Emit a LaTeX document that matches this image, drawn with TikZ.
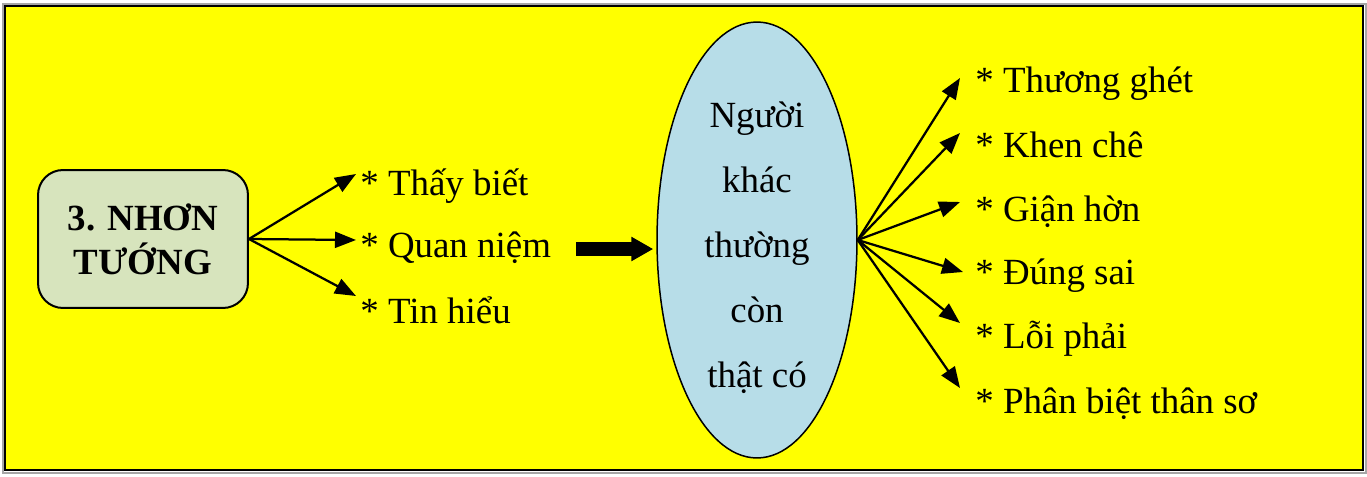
\documentclass[tikz,border=0pt]{standalone}
\usepackage{fontspec}
\setmainfont{Liberation Serif}
\usetikzlibrary{arrows.meta,shapes.geometric}
\definecolor{bgyellow}{RGB}{255,255,0}
\definecolor{boxgreen}{RGB}{215,228,189}
\definecolor{ovalblue}{RGB}{183,221,232}

\begin{document}
\begin{tikzpicture}[x=0.02cm, y=-0.02cm,
    item/.style={anchor=base west, inner sep=0pt, font=\fontsize{21}{25}\selectfont},
    arr/.style={-{Triangle[length=0.42cm,width=0.32cm]}, line width=0.045cm}]
          \useasboundingbox (0,0) rectangle (1367,477);
          \draw[gray!70, line width=0.05cm] (3,4) rectangle (1366,473);
          \draw[black, fill=bgyellow, line width=0.045cm] (5,6) rectangle (1363,470);
          \node[draw, fill=boxgreen, rounded corners=0.5cm, line width=0.04cm, minimum width=4.2cm, minimum height=2.76cm, align=center, font=\fontsize{21}{25}\selectfont\bfseries] (nhon) at (143,239) {3. NHƠN\\TƯỚNG};
          \node[ellipse, draw, fill=ovalblue, line width=0.03cm, minimum width=4cm, minimum height=8.72cm, inner sep=0pt] (nguoi) at (757,240) {};
          \node[align=center, inner sep=0pt, font=\fontsize{21}{37}\selectfont] (nguoitxt) at (757,248) {Người\\khác\\thường\\còn\\thật có};
          % left side
          \node[item] (thay) at (360,195) {* Thấy biết};
          \node[item] (quan) at (360,257) {* Quan niệm};
          \node[item] (tin) at (360,323) {* Tin hiểu};
          \coordinate (thayt) at (356,174);
          \coordinate (quant) at (356,240);
          \coordinate (tint) at (356,296);
          \draw[arr] (nhon.east) -- (thayt);
          \draw[arr] (nhon.east) -- (quant);
          \draw[arr] (nhon.east) -- (tint);
          % big arrow
          \coordinate (bigs) at (576,249);
          \draw[line width=0.27cm, -{Triangle[length=0.44cm,width=0.46cm]}, shorten >=0.06cm] (bigs) -- (nguoi.west |- bigs);
          % right side
          \node[item] (thuong) at (975,92) {* Thương ghét};
          \node[item] (khen) at (975,157) {* Khen chê};
          \node[item] (gian) at (975,221) {* Giận hờn};
          \node[item] (dung) at (975,284) {* Đúng sai};
          \node[item] (loi) at (975,348) {* Lỗi phải};
          \node[item] (phan) at (975,413) {* Phân biệt thân sơ};
          \coordinate (thuongt) at (960,78);
          \coordinate (khent) at (960,133);
          \coordinate (giant) at (960,202);
          \coordinate (dungt) at (963,272);
          \coordinate (loit) at (960,323);
          \coordinate (phant) at (960,388);
          \draw[arr] (nguoi.east) -- (thuongt);
          \draw[arr] (nguoi.east) -- (khent);
          \draw[arr] (nguoi.east) -- (giant);
          \draw[arr] (nguoi.east) -- (dungt);
          \draw[arr] (nguoi.east) -- (loit);
          \draw[arr] (nguoi.east) -- (phant);
\end{tikzpicture}
\end{document}
